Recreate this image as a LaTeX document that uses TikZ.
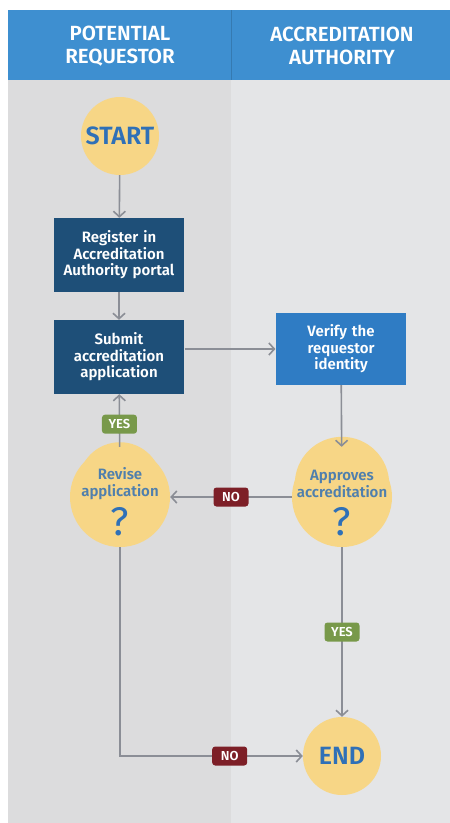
\documentclass[tikz,border=0pt]{standalone}
\usepackage{fontspec}
\setmainfont{Fira Sans}[BoldFont={Fira Sans SemiBold}]
\usetikzlibrary{arrows.meta}
\definecolor{headblue}{HTML}{3E8FD0}
\definecolor{laneleft}{HTML}{DCDCDD}
\definecolor{laneright}{HTML}{E4E5E7}
\definecolor{boxdark}{HTML}{1E4F78}
\definecolor{boxlight}{HTML}{2F7CC4}
\definecolor{decision}{HTML}{F7D686}
\definecolor{decitext}{HTML}{4F7FAD}
\definecolor{qmark}{HTML}{2F70B7}
\definecolor{yesgreen}{HTML}{78994A}
\definecolor{nored}{HTML}{7D1F27}
\definecolor{linegray}{HTML}{8B8E96}
\tikzset{
  head/.style={text=white,align=center,
    font=\bfseries\fontsize{20.5}{23}\selectfont},
  endpoint/.style={circle,fill=decision,inner sep=0pt,minimum size=78pt,
    text=qmark,font=\bfseries\fontsize{25}{25}\selectfont},
  decide/.style={circle,fill=decision,inner sep=0pt,minimum size=100pt,
    text=decitext,align=center,font=\bfseries\fontsize{15}{17}\selectfont},
  qsign/.style={text=qmark,font=\fontsize{40}{40}\selectfont},
  stepbox/.style={fill=boxdark,text=white,minimum width=128pt,
    minimum height=74pt,text width=124pt,align=center,
    font=\bfseries\fontsize{15}{16.5}\selectfont},
  yeslbl/.style={fill=yesgreen,text=white,rounded corners=3pt,
    minimum width=35pt,minimum height=19pt,inner sep=0pt,
    font=\bfseries\fontsize{13}{13}\selectfont},
  nolbl/.style={yeslbl,fill=nored},
  flow/.style={draw=linegray,line width=1.6pt,
    -{Straight Barb[length=5.5pt,width=12pt]}}
}
\begin{document}
\begin{tikzpicture}[x=1pt,y=-1pt]
  % lanes
  \fill[white] (0,0) rectangle (450,823);
  \fill[laneleft] (8,80) rectangle (231,823);
  \fill[laneright] (231,80) rectangle (450,823);
  \fill[headblue] (8,10) rectangle (450,80);
  \draw[headblue!85!black,line width=0.6pt] (231,10) -- (231,80);
  \node[head] (hreq) at (120,46) {POTENTIAL\\REQUESTOR};
  \node[head] (hauth) at (342,46) {ACCREDITATION\\AUTHORITY};

  % steps
  \node[endpoint] (start) at (120,136) {START};
  \node[stepbox] (register) at (119,255) {Register in\\Accreditation\\Authority portal};
  \node[stepbox] (submit) at (119,357) {Submit\\accreditation\\application};
  \node[stepbox,fill=boxlight,minimum height=72pt] (verify) at (341,349)
    {Verify the\\requestor\\identity};
  \node[decide] (revise) at (120,497) {};
  \node[decide] (approve) at (342,497) {};
  \node[decide,minimum size=0pt] (revtxt) at (120,484) {Revise\\application};
  \node[decide,minimum size=0pt] (apptxt) at (342,484) {Approves\\accreditation};
  \node[qsign] (revq) at (120,522) {?};
  \node[qsign] (appq) at (342,522) {?};
  \node[endpoint] (end) at (342,756) {END};

  % connectors
  \draw[flow] (start) -- (register);
  \draw[flow] (register) -- (submit);
  \draw[flow] (submit.east |- verify.west) -- (verify.west);
  \draw[flow] (verify) -- (approve);
  \draw[flow] (approve) -- node[nolbl] (no1) {NO} (revise);
  \draw[flow] (revise) -- node[yeslbl,pos=0.43] (yes1) {YES} (submit);
  \draw[flow] (approve) -- node[yeslbl] (yes2) {YES} (end);
  \draw[flow] (revise) |- node[nolbl,pos=0.8] (no2) {NO} (end);
\end{tikzpicture}
\end{document}
